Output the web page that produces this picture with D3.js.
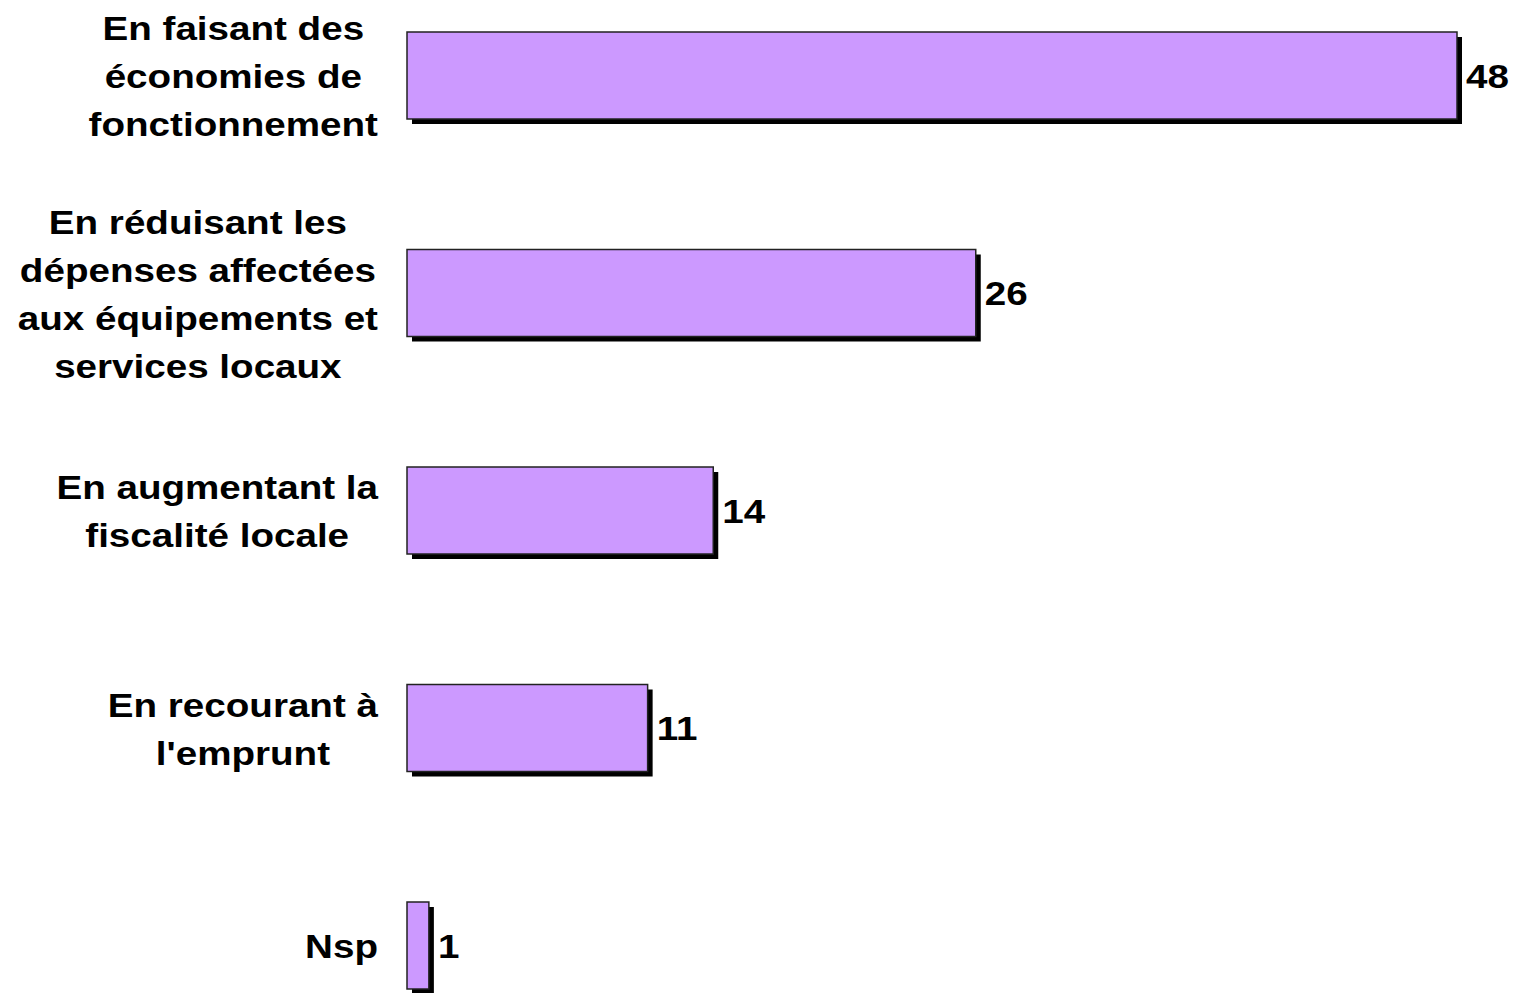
<!DOCTYPE html>
<html>
<head>
<meta charset="utf-8">
<script src="https://cdn.jsdelivr.net/npm/d3@7"></script>
<style>
  body { margin: 0; background: #fff; }
  text { font-family: "Liberation Sans", Arial, sans-serif; font-weight: bold; fill: #000; }
</style>
</head>
<body>
<svg id="chart"></svg>
<script>
const categories = [
    ['En faisant des', 'économies de', 'fonctionnement'],
    ['En réduisant les', 'dépenses affectées', 'aux équipements et', 'services locaux'],
    ['En augmentant la', 'fiscalité locale'],
    ['En recourant à', "l'emprunt"],
    ['Nsp']
];
const values = [48, 26, 14, 11, 1];

const width = 1514;
const height = 993;
const fontSize = 34;
const stretch = 1.135;   // the source text is a little wider than plain Arial
const lineHeight = 48;
const labelRight = 378;
const shadow = 5;

const svg = d3.select('#chart')
    .attr('width', width)
    .attr('height', height);

const keys = categories.map((d, i) => i);

const x = d3.scaleLinear()
    .domain([0, 48])
    .range([407, 1457]);

const y = d3.scaleBand()
    .domain(keys)
    .range([-33.25, 1054.25])
    .paddingInner(0.6)
    .paddingOuter(0.3);

// shadows first
svg.selectAll('.shadow')
    .data(keys)
    .join('rect')
    .attr('class', 'shadow')
    .attr('x', x(0) + shadow)
    .attr('y', d => y(d) + shadow)
    .attr('width', d => x(values[d]) - x(0))
    .attr('height', y.bandwidth())
    .attr('fill', '#000');

svg.selectAll('.bar')
    .data(keys)
    .join('rect')
    .attr('class', 'bar')
    .attr('x', x(0))
    .attr('y', d => y(d))
    .attr('width', d => x(values[d]) - x(0))
    .attr('height', y.bandwidth())
    .attr('fill', '#cc99ff')
    .attr('stroke', '#222')
    .attr('stroke-width', 1.5);

// value labels
svg.selectAll('.value')
    .data(keys)
    .join('g')
    .attr('class', 'value')
    .attr('transform', d => `translate(${x(values[d]) + 9}, ${y(d) + y.bandwidth() / 2 + 12}) scale(${stretch}, 1)`)
    .append('text')
    .attr('font-size', fontSize)
    .text(d => values[d]);

// category labels: lines centred on each other, block right-aligned
keys.forEach(i => {
    const lines = categories[i];
    const cy = y(i) + y.bandwidth() / 2;
    const gs = lines.map((line, j) => {
        const g = svg.append('g');
        g.append('text')
            .attr('font-size', fontSize)
            .attr('text-anchor', 'middle')
            .text(line);
        g.datum(cy + 12.5 + (j - (lines.length - 1) / 2) * lineHeight);
        return g;
    });
    const maxW = d3.max(gs, g => g.select('text').node().getComputedTextLength()) * stretch;
    gs.forEach(g => g.attr('transform', d => `translate(${labelRight - maxW / 2}, ${d}) scale(${stretch}, 1)`));
});
</script>
</body>
</html>
